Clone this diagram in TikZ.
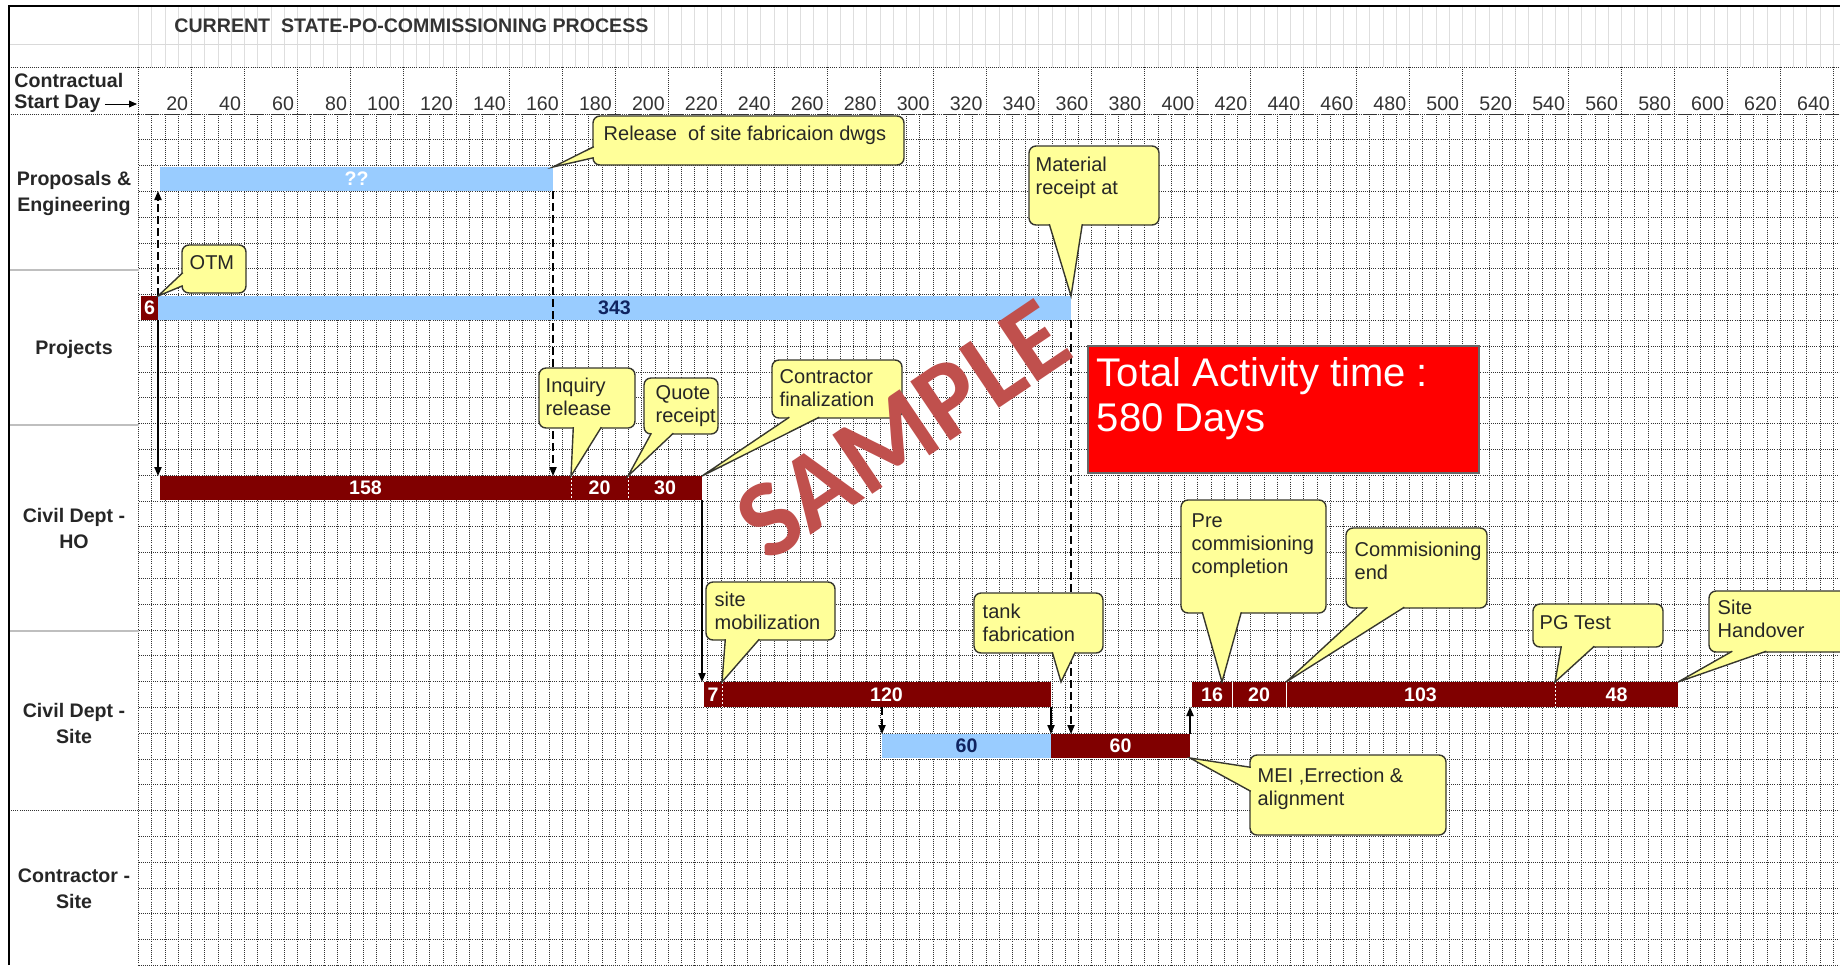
\documentclass[tikz,border=0pt]{standalone}
\usepackage{fontspec}
\setmainfont{Liberation Sans}
\newfontfamily\wmfont{Carlito}
\usetikzlibrary{positioning, fit, calc, arrows.meta}

\definecolor{barred}{RGB}{128,0,0}
\definecolor{barblue}{RGB}{153,204,255}
\definecolor{barnavy}{RGB}{16,36,96}
\definecolor{callfill}{RGB}{255,255,153}
\definecolor{callline}{RGB}{55,55,45}
\definecolor{totalred}{RGB}{255,0,0}
\definecolor{wmred}{RGB}{192,80,77}

% pointer of a callout: base point, tip, base point
\newcommand{\callwedge}[3]{%
  \fill[callfill] #1 -- #2 -- #3 -- cycle;
  \draw[callline, line width=0.7pt, line join=miter] #1 -- #2 -- #3;
}

\begin{document}
\begin{tikzpicture}[x=0.5pt, y=-0.5pt,
    gridline/.style={black!80, line width=0.35pt, dash pattern=on 0.5pt off 0.55pt},
    lanelabel/.style={font=\fontsize{9.8}{13}\selectfont\bfseries, align=center, text=black!85, inner sep=0pt},
    hdrlabel/.style={font=\fontsize{9.8}{12}\selectfont\bfseries, anchor=west, text=black!85, inner sep=0pt},
    daylabel/.style={font=\fontsize{9.8}{12}\selectfont, anchor=east, text=black!80, inner sep=0pt},
    bartext/.style={font=\fontsize{9.8}{12}\selectfont\bfseries, inner sep=0pt},
    barbox/.style={inner sep=0pt, outer sep=0pt, draw=none},
    redbar/.style={barbox, fill=barred, label={[bartext, text=white]center:#1}},
    bluebar/.style={barbox, fill=barblue, label={[bartext, text=barnavy]center:#1}},
    segline/.style={white, line width=0.5pt, dash pattern=on 1pt off 1pt},
    flow/.style={black, line width=0.75pt, -{Triangle[length=4.5pt, width=3.6pt]}},
    flowdash/.style={flow, dash pattern=on 4pt off 2pt},
    callbox/.style={draw=callline, fill=callfill, line width=0.7pt, rounded corners=3.5pt, inner sep=0pt},
    calltext/.style={font=\fontsize{10}{11.5}\selectfont, align=left, anchor=north west, text=black!85, inner sep=0pt}]

\useasboundingbox (0,0) rectangle (1840,965);
\clip (0,0) rectangle (1840,965);

% light sheet lines above the header
\foreach \j in {0,...,128} {
    \draw[black!13, line width=0.4pt] ({138.5+13.24*\j},7) -- ({138.5+13.24*\j},67);
}
\draw[black!15, line width=0.5pt] (9,44) -- (1840,44);

% header row
\draw[gridline] (9,67) -- (1840,67);
\draw[gridline] (9,114) -- (1840,114);
\foreach \k in {0,...,32} {
    \draw[gridline] ({138.5+52.96*\k},67) -- ({138.5+52.96*\k},114);
}

% day grid
\foreach \j in {0,...,128} {
    \draw[gridline] ({138.5+13.24*\j},114) -- ({138.5+13.24*\j},965);
}
\foreach \i in {0,...,33} {
    \draw[gridline] (138.5,{114+25.8*\i}) -- (1840,{114+25.8*\i});
}

% lane separators in the label column
\foreach \y in {270, 425, 631} {
    \draw[black!25, line width=0.8pt] (9,\y) -- (138.5,\y);
}
\draw[gridline] (9,810) -- (138.5,810);

% frame
\draw[black, line width=1.1pt] (9,965) -- (9,6) -- (1840,6);

% title and header
\node[font=\fontsize{9.8}{12}\selectfont\bfseries, anchor=west, text=black!80, inner sep=0pt] (ttl) at (174,26) {CURRENT\ \ STATE-PO-COMMISSIONING PROCESS};
\node[hdrlabel] (contr) at (14,80) {Contractual};
\node[hdrlabel] (sday) at (14,104) {Start Day};
\coordinate (gridstart) at (137,104);
\draw[black, line width=0.5pt, -{Triangle[length=4pt, width=3.4pt]}] ([xshift=2pt]sday.east) -- (gridstart);
\foreach \k in {1,...,32} {
    \pgfmathtruncatemacro\day{20*\k}
    \node[daylabel] (day\k) at ({138.5+52.96*\k-3},104) {\day};
}

% lanes
\node[lanelabel] (lpe) at (74,193) {Proposals \&\\Engineering};
\node[lanelabel] (lpr) at (74,349) {Projects};
\node[lanelabel] (lho) at (74,528) {Civil Dept -\\HO};
\node[lanelabel] (lsite) at (74,723) {Civil Dept -\\Site};
\node[lanelabel] (lcon) at (74,889) {Contractor -\\Site};

% bars
\node[barbox, fill=barblue, label={[bartext, text=white]center:??}, fit={(160,167) (553,191)}] (pe) {};
\node[redbar=6, fit={(141,296) (158,320)}] (p6) {};
\node[bluebar=343, fit={(158,296) (1071,320)}] (p343) {};
\node[redbar=158, fit={(160,476) (571,500)}] (ho1) {};
\node[redbar=20, fit={(571,476) (628,500)}] (ho2) {};
\node[redbar=30, fit={(628,476) (702,500)}] (ho3) {};
\node[redbar=7, fit={(704,682) (722,707)}] (s1) {};
\node[redbar=120, fit={(722,682) (1051,707)}] (s2) {};
\node[redbar=16, fit={(1192,682) (1232,707)}] (c1) {};
\node[redbar=20, fit={(1232,682) (1286,707)}] (c2) {};
\node[redbar=103, fit={(1286,682) (1555,707)}] (c3) {};
\node[redbar=48, fit={(1555,682) (1678,707)}] (c4) {};
\node[bluebar=60, fit={(882,734) (1051,758)}] (lb) {};
\node[redbar=60, fit={(1051,734) (1190,758)}] (lr) {};
\draw[segline] (ho1.north east) -- (ho1.south east);
\draw[segline] (ho2.north east) -- (ho2.south east);
\draw[segline] (s1.north east) -- (s1.south east);
\draw[white, line width=0.5pt] (c1.north east) -- (c1.south east);
\draw[white, line width=0.5pt] (c2.north east) -- (c2.south east);
\draw[segline] (c3.north east) -- (c3.south east);

% links
\draw[flowdash] (p6.north east) -- (p6.north east |- pe.south);
\draw[flow] (p6.south east) -- (p6.south east |- ho1.north);
\draw[flowdash] (pe.south east) -- (pe.south east |- ho1.north);
\draw[flow] (ho3.south east) -- (ho3.south east |- s1.north);
\draw[flowdash] (p343.south east) -- (p343.south east |- lr.north);
\draw[flow] (s2.south east) -- (lr.north west);
\draw[flowdash] (lb.north west |- s2.south) -- (lb.north west);
\draw[flow] (lr.north east) -- (lr.north east |- c1.south);

% callouts
\node[callbox, fit={(593,116) (904,165)}] (rel) {};
\callwedge{($(rel.south west)+(1.5,-19)$)}{(pe.north east)}{($(rel.south west)+(1.5,-8)$)}
\node[calltext, anchor=west] (rel-t) at ($(rel.north west)+(11,20)$) {Release\ \ of site fabricaion dwgs};

\node[callbox, fit={(182,245) (246,293)}] (otm) {};
\callwedge{($(otm.south west)+(1.5,-21)$)}{(p343.north west)}{($(otm.south west)+(1.5,-8)$)}
\node[calltext, anchor=west] (otm-t) at ($(otm.north west)+(8,18)$) {OTM};

\node[callbox, fit={(539,368) (635,428)}] (inq) {};
\callwedge{($(inq.south west)+(35,-1.5)$)}{(ho1.north east)}{($(inq.south west)+(63,-1.5)$)}
\node[calltext] (inq-t) at ($(inq.north west)+(7,10)$) {Inquiry\\release};

\node[callbox, fit={(644,378) (718,434)}] (quo) {};
\callwedge{($(quo.south west)+(8,-1.5)$)}{(ho2.north east)}{($(quo.south west)+(30,-1.5)$)}
\node[calltext] (quo-t) at ($(quo.north west)+(12,8)$) {Quote\\receipt};

\node[callbox, fit={(772,360) (902,418)}] (cfin) {};
\callwedge{($(cfin.south west)+(18,-1.5)$)}{(ho3.north east)}{($(cfin.south west)+(48,-1.5)$)}
\node[calltext] (cfin-t) at ($(cfin.north west)+(8,10)$) {Contractor\\finalization};

\node[callbox, fit={(1029,146) (1159,225)}] (mat) {};
\callwedge{($(mat.south west)+(21,-1.5)$)}{(p343.north east)}{($(mat.south west)+(54,-1.5)$)}
\node[calltext] (mat-t) at ($(mat.north west)+(7,11)$) {Material\\receipt at};

\node[callbox, fit={(706,582) (835,640)}] (mob) {};
\callwedge{($(mob.south west)+(20,-1.5)$)}{(s1.north east)}{($(mob.south west)+(54,-1.5)$)}
\node[calltext] (mob-t) at ($(mob.north west)+(9,10)$) {site\\mobilization};

\node[callbox, fit={(974,593) (1103,653)}] (tank) {};
\callwedge{($(tank.south west)+(79,-1.5)$)}{($(s2.north east)+(10,0)$)}{($(tank.south west)+(102,-1.5)$)}
\node[calltext] (tank-t) at ($(tank.north west)+(9,11)$) {tank\\fabrication};

\node[callbox, fit={(1181,500) (1326,613)}] (prec) {};
\callwedge{($(prec.south west)+(22,-1.5)$)}{($(c1.north east)+(-10,0)$)}{($(prec.south west)+(61,-1.5)$)}
\node[calltext] (prec-t) at ($(prec.north west)+(11,14)$) {Pre\\commisioning\\completion};

\node[callbox, fit={(1346,528) (1487,608)}] (cend) {};
\callwedge{($(cend.south west)+(22,-1.5)$)}{(c2.north east)}{($(cend.south west)+(59,-1.5)$)}
\node[calltext] (cend-t) at ($(cend.north west)+(9,14)$) {Commisioning\\end};

\node[callbox, fit={(1533,604) (1663,647)}] (pgt) {};
\callwedge{($(pgt.south west)+(29,-1.5)$)}{(c3.north east)}{($(pgt.south west)+(62,-1.5)$)}
\node[calltext, anchor=west] (pgt-t) at ($(pgt.north west)+(7,19)$) {PG Test};

\node[callbox, fit={(1709,591) (1870,652)}] (hand) {};
\callwedge{($(hand.south west)+(24,-1.5)$)}{(c4.north east)}{($(hand.south west)+(58,-1.5)$)}
\node[calltext] (hand-t) at ($(hand.north west)+(9,9)$) {Site\\Handover};

\node[callbox, fit={(1250,755) (1446,835)}] (mei) {};
\callwedge{($(mei.north west)+(1.5,13)$)}{(lr.south east)}{($(mei.north west)+(1.5,37)$)}
\node[calltext] (mei-t) at ($(mei.north west)+(8,13)$) {MEI ,Errection \&\\alignment};

% total time
\node[fill=totalred, draw=black!60, line width=0.6pt, inner sep=0pt, fit={(1088,346) (1479,473)}] (total) {};
\node[font=\fontsize{20}{22.5}\selectfont, align=left, anchor=north west, text=white, inner sep=0pt] (total-t) at ($(total.north west)+(9,12)$) {Total Activity time :\\580 Days};

% watermark
\node[rotate=34, font=\fontsize{55}{60}\wmfont\bfseries, text=wmred, inner sep=0pt] (wm) at (903,430) {SAMPLE};

\end{tikzpicture}
\end{document}
